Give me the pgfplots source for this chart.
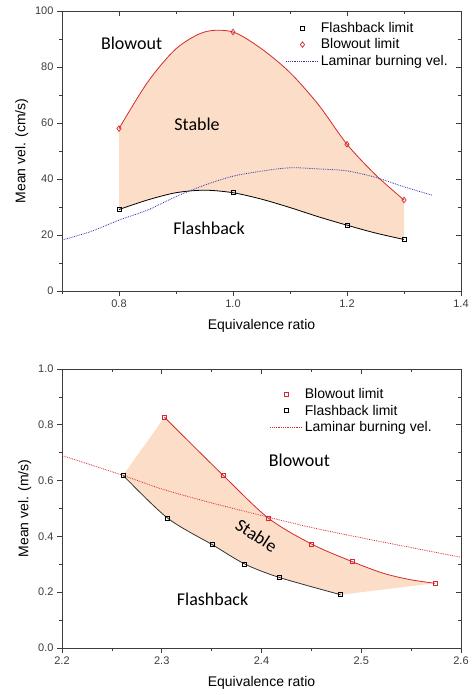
\documentclass[border=0pt]{standalone}
\usepackage{fontspec}
\setmainfont{Liberation Sans}
\newfontfamily\regionfont{Carlito}
\usepackage{pgfplots}
\pgfplotsset{compat=1.18}
\usepgfplotslibrary{fillbetween}
\definecolor{peach}{RGB}{252,222,200}
\definecolor{blred}{RGB}{215,40,45}
\definecolor{lamblue}{RGB}{50,50,170}
\definecolor{axgray}{RGB}{60,60,60}
\pgfplotsset{
  common/.style={
    scale only axis, width=399pt,
    axis line style={axgray, line width=0.8pt},
    tick style={axgray, line width=0.7pt},
    major tick length=5pt, minor tick length=3pt,
    ticklabel style={font=\fontsize{11}{13}\selectfont, text=axgray},
    /pgf/number format/assume math mode=true,
    label style={font=\fontsize{14}{16}\selectfont},
    xlabel style={yshift=-5pt},
    legend style={draw=none, fill=none, font=\fontsize{14}{17}\selectfont, anchor=north west, inner sep=0pt, row sep=1pt},
    legend cell align=left,
  },
  mainax/.style={common, tick align=outside, xtick pos=bottom, ytick pos=left},
  mirrorax/.style={common, tick align=inside, xtick pos=top, ytick pos=right,
    xticklabels={}, yticklabels={}, axis line style={draw=none}},
  topframe/.style={at={(62pt,404pt)}, anchor=south west, height=280pt,
    xmin=0.7, xmax=1.4, ymin=0, ymax=100,
    xtick={0.8,1.0,1.2,1.4}, minor xtick={0.7,0.9,1.1,1.3},
    ytick={0,20,40,60,80,100}, minor ytick={10,30,50,70,90}},
  botframe/.style={at={(62pt,47pt)}, anchor=south west, height=279pt,
    xmin=2.2, xmax=2.6, ymin=0, ymax=1.0,
    xtick={2.2,2.3,2.4,2.5,2.6}, minor xtick={2.25,2.35,2.45,2.55},
    ytick={0,0.2,0.4,0.6,0.8,1.0}, minor ytick={0.1,0.3,0.5,0.7,0.9}},
  marklegend/.style={legend image code/.code={\draw[mark repeat=2,mark phase=2,##1] plot coordinates {(0pt,0pt) (16pt,0pt) (32pt,0pt)};}},
  linelegend/.style={legend image code/.code={\draw[##1] (0pt,0pt) -- (32pt,0pt);}},
}
\begin{document}
\begin{tikzpicture}
% ---------------- top ----------------
\begin{axis}[mainax, topframe,
  x tick label style={/pgf/number format/.cd, fixed, fixed zerofill, precision=1},
  xlabel={Equivalence ratio}, ylabel={Mean vel. (cm/s)},
  legend style={at={(rel axis cs:0.561,0.968)}},
]
\addplot[draw=none, smooth, name path=blowA, forget plot] coordinates {
 (0.8,58) (0.85,74.5) (0.9,86.5) (0.95,92.5) (1.0,92.5) (1.05,86.5) (1.1,78) (1.15,66.5) (1.2,52.4) (1.25,41.5) (1.3,32.5)};
\addplot[draw=none, smooth, name path=flashA, forget plot] coordinates {
 (0.8,29.1) (0.85,32.5) (0.9,35.1) (0.95,36) (1.0,35.1) (1.05,32.8) (1.1,29.8) (1.15,26.5) (1.2,23.5) (1.25,20.7) (1.3,18.4)};
\addplot[peach, forget plot] fill between[of=blowA and flashA];
\addplot[blred, smooth, line width=0.8pt, forget plot] coordinates {
 (0.8,58) (0.85,74.5) (0.9,86.5) (0.95,92.5) (1.0,92.5) (1.05,86.5) (1.1,78) (1.15,66.5) (1.2,52.4) (1.25,41.5) (1.3,32.5)};
\addplot[black, smooth, line width=0.8pt, forget plot] coordinates {
 (0.8,29.1) (0.85,32.5) (0.9,35.1) (0.95,36) (1.0,35.1) (1.05,32.8) (1.1,29.8) (1.15,26.5) (1.2,23.5) (1.25,20.7) (1.3,18.4)};
\addplot[black, only marks, mark=square, mark size=2pt, mark options={fill=white, line width=0.7pt}, marklegend] coordinates {
 (0.8,29.1) (1.0,35.1) (1.2,23.5) (1.3,18.4)};
\addlegendentry{Flashback limit}
\addplot[blred, only marks, mark=diamond, mark size=2.8pt, mark options={fill=white, line width=0.7pt}, marklegend] coordinates {
 (0.8,58) (1.0,92.5) (1.2,52.4) (1.3,32.5)};
\addlegendentry{Blowout limit}
\addplot[lamblue, densely dotted, smooth, line width=0.8pt, linelegend] coordinates {
 (0.7,18.2) (0.75,21.2) (0.8,25.3) (0.85,28.9) (0.9,33.7) (0.95,37.8) (1.0,41.0) (1.05,42.8) (1.1,44.0) (1.15,43.6) (1.2,42.9) (1.25,40.6) (1.3,37.2) (1.35,34.2)};
\addlegendentry{Laminar burning vel.}
\node[font=\regionfont\fontsize{18}{20}\selectfont] at (axis cs:0.822,88.3) {Blowout};
\node[font=\regionfont\fontsize{18}{20}\selectfont] at (axis cs:0.937,59.6) {Stable};
\node[font=\regionfont\fontsize{18}{20}\selectfont] at (axis cs:0.958,22.5) {Flashback};
\end{axis}
\begin{axis}[mirrorax, topframe]
\end{axis}
% ---------------- bottom ----------------
\begin{axis}[mainax, botframe,
  x tick label style={/pgf/number format/.cd, fixed, fixed zerofill, precision=1},
  y tick label style={/pgf/number format/.cd, fixed, fixed zerofill, precision=1},
  xlabel={Equivalence ratio}, ylabel={Mean vel. (m/s)},
  legend style={at={(rel axis cs:0.521,0.939)}},
]
\addplot[draw=none, smooth, name path=blowB, forget plot] coordinates {
 (2.3027,0.827) (2.3615,0.619) (2.4067,0.466) (2.450,0.373) (2.4913,0.309) (2.522,0.268) (2.549,0.245) (2.574,0.232)};
\addplot[draw=none, smooth, name path=flashB, forget plot] coordinates {
 (2.2612,0.619) (2.3057,0.466) (2.3508,0.370) (2.3833,0.301) (2.4177,0.253) (2.4793,0.191)};
\addplot[peach, forget plot] fill between[of=blowB and flashB];
\addplot[blred, smooth, line width=0.8pt, forget plot] coordinates {
 (2.3027,0.827) (2.3615,0.619) (2.4067,0.466) (2.450,0.373) (2.4913,0.309) (2.522,0.268) (2.549,0.245) (2.574,0.232)};
\addplot[black!80, smooth, line width=0.8pt, forget plot] coordinates {
 (2.2612,0.619) (2.3057,0.466) (2.3508,0.370) (2.3833,0.301) (2.4177,0.253) (2.4793,0.191)};
\addplot[blred, only marks, mark=square, mark size=2pt, mark options={fill=white, line width=0.7pt}, marklegend] coordinates {
 (2.3027,0.827) (2.3615,0.619) (2.4067,0.466) (2.450,0.373) (2.4913,0.309) (2.574,0.232)};
\addlegendentry{Blowout limit}
\addplot[black, only marks, mark=square, mark size=2pt, mark options={fill=white, line width=0.7pt}, marklegend] coordinates {
 (2.2612,0.619) (2.3057,0.466) (2.3508,0.370) (2.3833,0.301) (2.4177,0.253) (2.4793,0.191)};
\addlegendentry{Flashback limit}
\addplot[blred, densely dotted, smooth, line width=0.8pt, linelegend] coordinates {
 (2.2,0.69) (2.26,0.62) (2.3,0.57) (2.35,0.52) (2.4,0.475) (2.45,0.432) (2.5,0.395) (2.55,0.36) (2.6,0.325)};
\addlegendentry{Laminar burning vel.}
\node[font=\regionfont\fontsize{18}{20}\selectfont] at (axis cs:2.438,0.673) {Blowout};
\node[font=\regionfont\fontsize{18}{20}\selectfont, rotate=-33] at (axis cs:2.395,0.403) {Stable};
\node[font=\regionfont\fontsize{18}{20}\selectfont] at (axis cs:2.351,0.176) {Flashback};
\end{axis}
\begin{axis}[mirrorax, botframe]
\end{axis}
\pgfresetboundingbox
\useasboundingbox (0,0) rectangle (474pt,695pt);
\end{tikzpicture}
\end{document}
